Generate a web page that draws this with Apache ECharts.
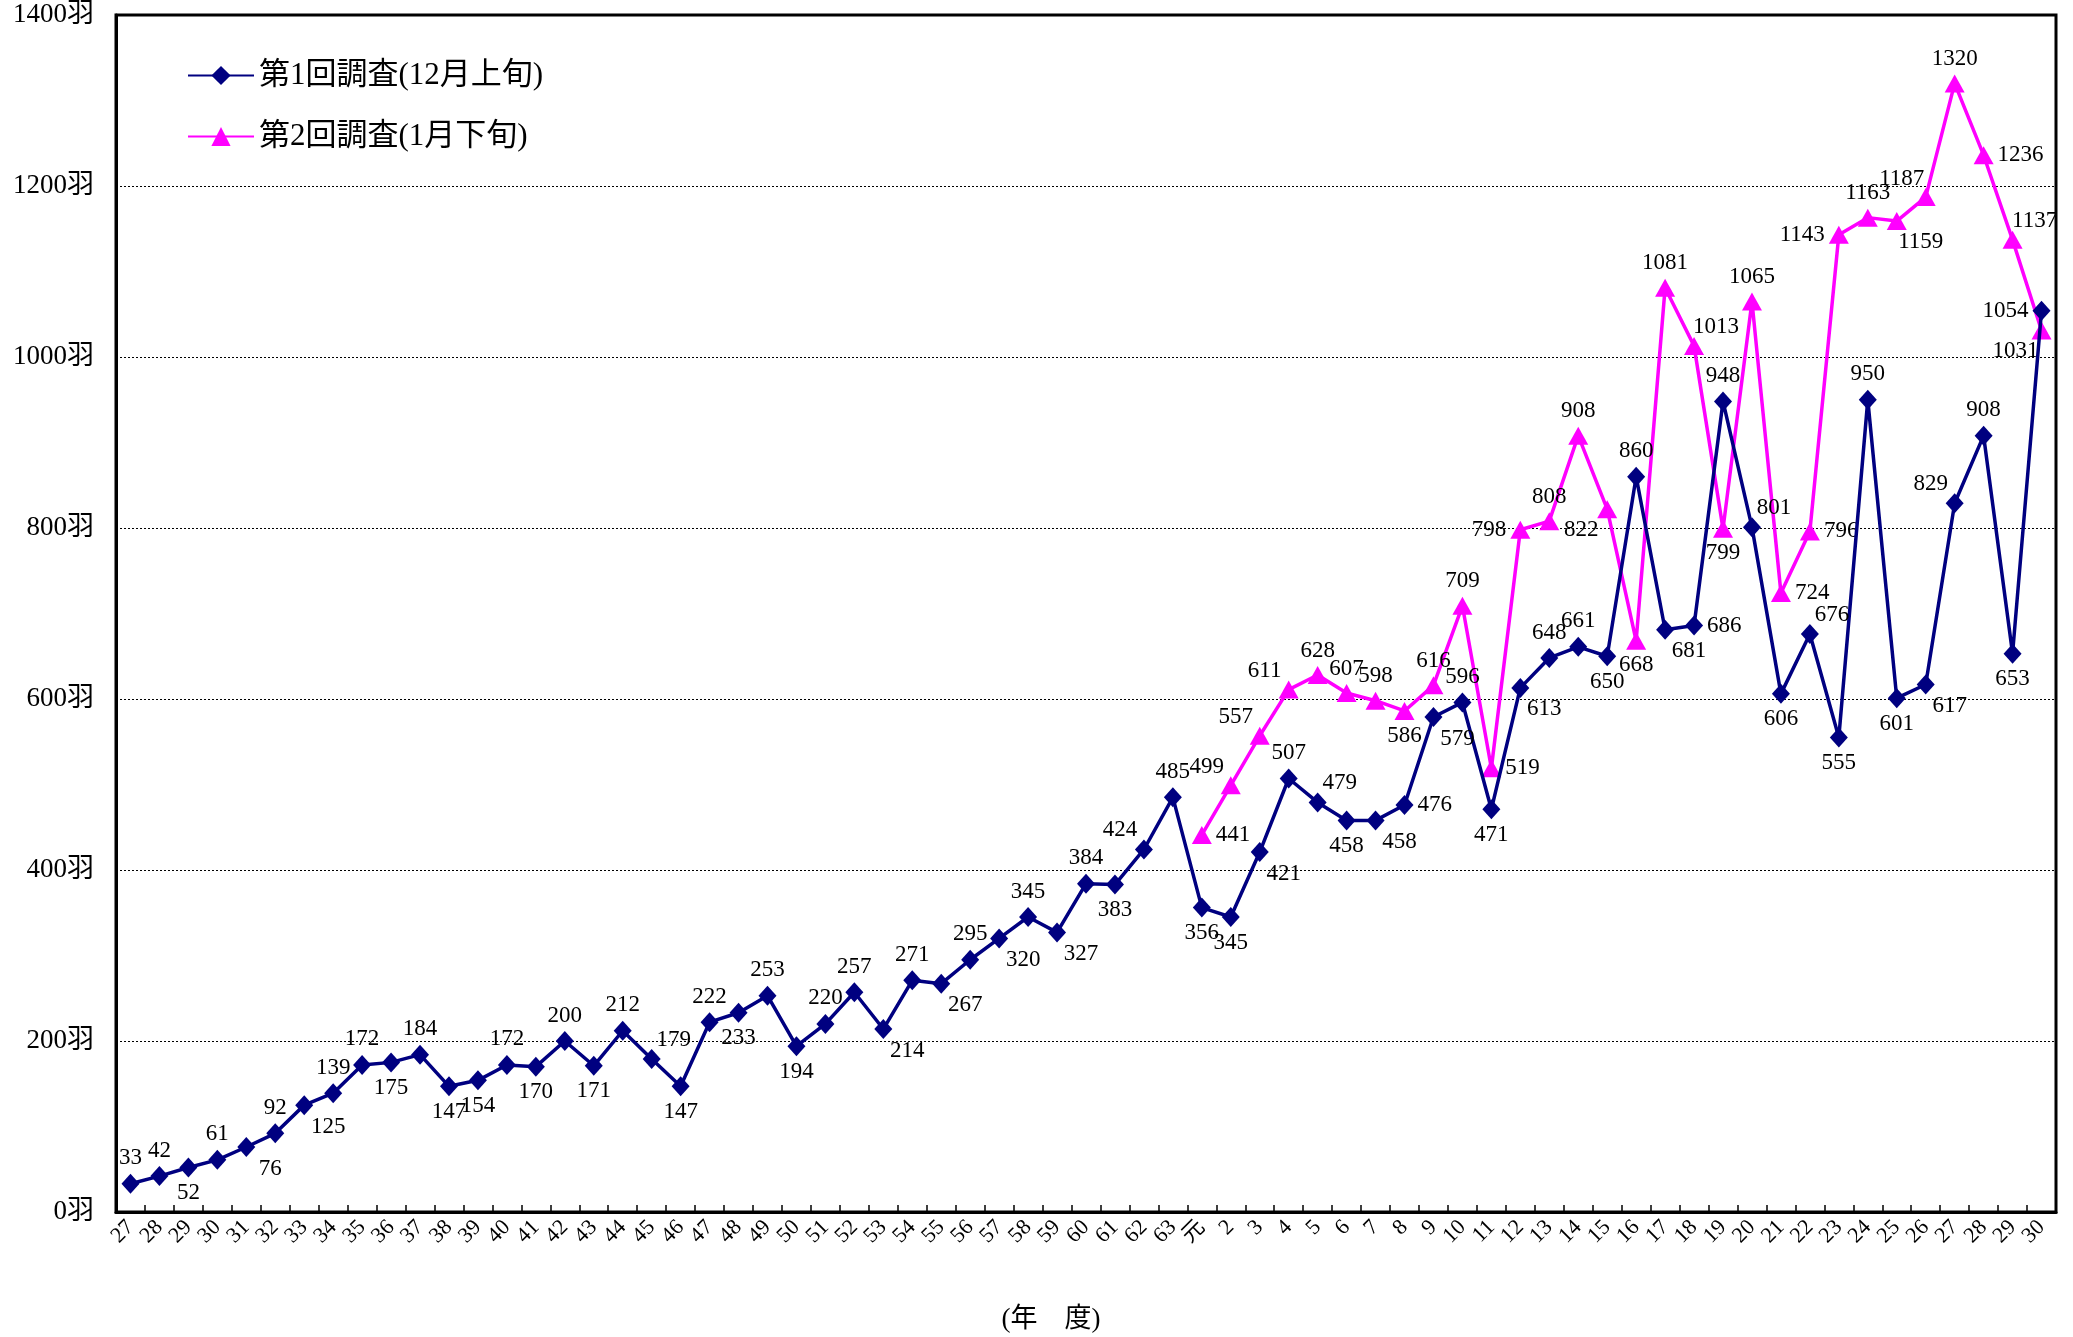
<!DOCTYPE html>
<html>
<head>
<meta charset="utf-8">
<script src="https://cdn.jsdelivr.net/npm/echarts@6/dist/echarts.min.js"></script>
<style>
    html, body { margin: 0; padding: 0; background: #fff; }
    #chart { width: 2073px; height: 1337px; }
</style>
</head>
<body>
<div id="chart"></div>
<script>
// ============================================
// DATA
// ============================================

// Fiscal years: Showa 27-63, then Heisei 元-30
const years = [
    '27', '28', '29', '30', '31', '32', '33', '34', '35', '36', '37', '38', '39', '40',
    '41', '42', '43', '44', '45', '46', '47', '48', '49', '50', '51', '52', '53', '54',
    '55', '56', '57', '58', '59', '60', '61', '62', '63',
    '元', '2', '3', '4', '5', '6', '7', '8', '9', '10', '11', '12', '13', '14', '15',
    '16', '17', '18', '19', '20', '21', '22', '23', '24', '25', '26', '27', '28', '29', '30'
];

// 第1回調査 (12月上旬)
const survey1 = [
    33, 42, 52, 61, 76, 92, 125, 139, 172, 175, 184, 147, 154, 172,
    170, 200, 171, 212, 179, 147, 222, 233, 253, 194, 220, 257, 214, 271,
    267, 295, 320, 345, 327, 384, 383, 424, 485,
    356, 345, 421, 507, 479, 458, 458, 476, 579, 596, 471, 613, 648, 661, 650,
    860, 681, 686, 948, 801, 606, 676, 555, 950, 601, 617, 829, 908, 653, 1054
];

// 第2回調査 (1月下旬) - starts in 元
const survey2 = [
    null, null, null, null, null, null, null, null, null, null, null, null, null, null,
    null, null, null, null, null, null, null, null, null, null, null, null, null, null,
    null, null, null, null, null, null, null, null, null,
    441, 499, 557, 611, 628, 607, 598, 586, 616, 709, 519, 798, 808, 908, 822,
    668, 1081, 1013, 799, 1065, 724, 796, 1143, 1163, 1159, 1187, 1320, 1236, 1137, 1031
];

const yTicks = [0, 200, 400, 600, 800, 1000, 1200, 1400];

// where each value label sits relative to its point
const labelPlace1 = [
    't', 't', 'b', 't', 'br', 't', 'br', 't', 't', 'b', 't', 'b', 'b', 't',
    'b', 't', 'b', 't', 'tr', 'b', 't', 'b', 't', 'b', 't', 't', 'br', 't',
    'br', 't', 'br', 't', 'br', 't', 'b', 'tl', 't',
    'b', 'b', 'br', 't', 'tr', 'b', 'br', 'r', 'br', 't', 'b', 'br', 't', 't', 'b',
    't', 'br', 'r', 't', 'tr', 'b', 'tr', 'b', 't', 'b', 'br', 'tl', 't', 'b', 'l'
];
const labelPlace2 = [
    '', '', '', '', '', '', '', '', '', '', '', '', '', '',
    '', '', '', '', '', '', '', '', '', '', '', '', '', '',
    '', '', '', '', '', '', '', '', '',
    'r', 'tl', 'tl', 'tl', 't', 't', 't', 'b', 't', 't', 'r', 'l', 't', 't', 'bl',
    'b', 't', 'tr', 'b', 't', 'r', 'r', 'l', 't', 'br', 'tl', 't', 'r', 'tr', 'bl'
];

// ============================================
// CHART
// ============================================

const FONT = "'Liberation Serif', 'Noto Sans CJK JP', serif";

const placeMap = {
    t:  { position: 'top', offset: [0, 0] },
    b:  { position: 'bottom', offset: [0, 0] },
    l:  { position: 'left', offset: [0, 0] },
    r:  { position: 'right', offset: [0, 0] },
    tr: { position: 'top', offset: [22, 6] },
    tl: { position: 'top', offset: [-24, 6] },
    br: { position: 'bottom', offset: [24, -4] },
    bl: { position: 'bottom', offset: [-26, -4] }
};

function buildData(values, places) {
    return values.map((v, i) => {
        if (v === null) return null;
        const p = placeMap[places[i]] || placeMap.t;
        return {
            value: v,
            label: { position: p.position, offset: p.offset }
        };
    });
}

const chart = echarts.init(document.getElementById('chart'));

const labelStyle = {
    show: true,
    color: '#000',
    fontFamily: FONT,
    fontSize: 23,
    distance: 4
};

const option = {
    backgroundColor: '#fff',
    animation: false,
    textStyle: { fontFamily: FONT },
    grid: {
        left: 116,
        right: 17,
        top: 15,
        bottom: 125,
        outerBoundsMode: 'none',
        containLabel: false,
        show: true,
        borderColor: '#000',
        borderWidth: 3,
        backgroundColor: 'transparent'
    },
    legend: {
        orient: 'vertical',
        left: 182,
        top: 55,
        itemGap: 30,
        itemWidth: 66,
        itemHeight: 24,
        textStyle: { fontFamily: FONT, fontSize: 31, color: '#000' },
        data: ['第1回調査(12月上旬)', '第2回調査(1月下旬)']
    },
    xAxis: {
        type: 'category',
        data: years,
        boundaryGap: true,
        axisLine: { lineStyle: { color: '#000', width: 3 } },
        axisTick: { show: true, inside: true, length: 7, lineStyle: { color: '#000', width: 1.5 } },
        axisLabel: {
            interval: 0,
            rotate: 45,
            color: '#000',
            fontFamily: FONT,
            fontSize: 22,
            margin: 12
        },
        name: '(年\u3000度)',
        nameLocation: 'middle',
        nameGap: 94,
        nameTextStyle: { fontFamily: FONT, fontSize: 27, color: '#000', padding: [0, 70, 0, 0] }
    },
    yAxis: {
        type: 'value',
        min: yTicks[0],
        max: yTicks[yTicks.length - 1],
        interval: 200,
        axisLine: { show: true, lineStyle: { color: '#000', width: 3 } },
        axisTick: { show: false },
        axisLabel: {
            color: '#000',
            fontFamily: FONT,
            fontSize: 27,
            margin: 22,
            formatter: v => v + '羽'
        },
        splitLine: { show: true, lineStyle: { color: '#000', width: 1, type: [2, 2] } }
    },
    series: [
        {
            name: '第1回調査(12月上旬)',
            type: 'line',
            data: buildData(survey1, labelPlace1),
            symbol: 'diamond',
            symbolSize: [18, 20],
            itemStyle: { color: '#000080' },
            lineStyle: { color: '#000080', width: 3.5 },
            label: labelStyle,
            z: 3
        },
        {
            name: '第2回調査(1月下旬)',
            type: 'line',
            data: buildData(survey2, labelPlace2),
            symbol: 'triangle',
            symbolSize: [20, 18],
            itemStyle: { color: '#ff00ff' },
            lineStyle: { color: '#ff00ff', width: 3.5 },
            label: labelStyle,
            z: 2
        }
    ]
};

chart.setOption(option);
</script>
</body>
</html>
